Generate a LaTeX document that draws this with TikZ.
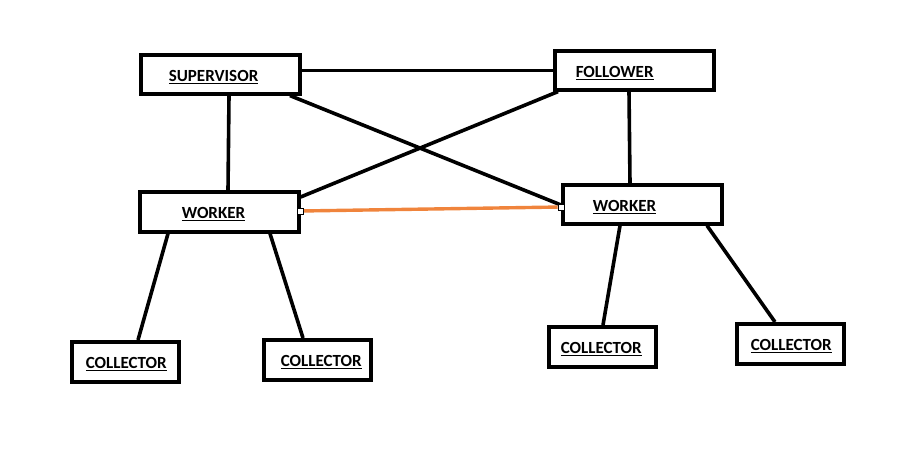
\documentclass[tikz,border=0pt]{standalone}
\usepackage{fontspec}
\setmainfont{Carlito}
\usepackage{xcolor}
\usetikzlibrary{positioning, calc}
\definecolor{LinkOrange}{HTML}{F0843C}
\definecolor{LinkBlack}{HTML}{000000}
\tikzset{
    % Node styles - plain boxes, label pushed to the left
    rolebox/.style={
        rectangle,
        draw=LinkBlack,
        fill=white,
        line width=3.6pt,
        anchor=north west,
        inner xsep=0pt,
        inner ysep=0pt,
        text width=159pt,
        text height=16pt,
        text depth=2pt,
        minimum height=39pt,
        align=left,
        font=\fontsize{17}{20}\selectfont\bfseries
    },
    collectorbox/.style={
        rolebox,
        text width=107pt,
        minimum height=40pt
    },
    handlebox/.style={
        rectangle,
        draw=LinkBlack,
        fill=white,
        line width=0.8pt,
        inner sep=0pt,
        minimum size=6pt
    },
    % Connector styles
    link/.style={
        draw=LinkBlack,
        line width=3.6pt
    },
    orangelink/.style={
        draw=LinkOrange,
        line width=3.4pt
    }
}

\begin{document}
\begin{tikzpicture}[x=1pt, y=-1pt]
    \useasboundingbox (0,0) rectangle (921,458);

    % Top row
    \node[rolebox] (sup) at (139,53) {\hspace*{28pt}\underline{SUPERVISOR}};
    \node[rolebox] (fol) at (553,49) {\hspace*{21pt}\underline{FOLLOWER}};

    % Workers
    \node[rolebox,minimum height=40pt] (w1) at (138,190) {\hspace*{42pt}\underline{WORKER}};
    \node[rolebox] (w2) at (561,183) {\hspace*{30pt}\underline{WORKER}};

    % Collectors
    \node[collectorbox] (c1) at (70,340) {\hspace*{14pt}\underline{COLLECTOR}};
    \node[collectorbox] (c2) at (262,338) {\hspace*{17pt}\underline{COLLECTOR}};
    \node[collectorbox] (c3) at (547,325) {\hspace*{12pt}\underline{COLLECTOR}};
    \node[collectorbox] (c4) at (735,322) {\hspace*{14pt}\underline{COLLECTOR}};

    % Top links
    \draw[link] (fol.west -| sup.east) -- (fol.west);
    \draw[link] ([xshift=90pt]sup.south west) -- ([xshift=90pt]w1.north west);
    \draw[link] ([xshift=151pt]sup.south west) -- ([yshift=-22pt]w2.north west);
    \draw[link] ([xshift=5pt]fol.south west) -- ([yshift=-7pt]w1.north east);
    \draw[link] ([xshift=76pt]fol.south west) -- ([xshift=69pt]w2.north west);

    % Worker to worker
    \node[handlebox] (h1) at ([yshift=-21pt]w1.north east) {};
    \node[handlebox] (h2) at ([yshift=-24pt]w2.north west) {};
    \draw[orangelink] (h1) -- (h2);

    % Collector links
    \draw[link] ([xshift=30pt]w1.south west) -- ([xshift=68pt]c1.north west);
    \draw[link] ([xshift=132pt]w1.south west) -- ([xshift=41pt]c2.north west);
    \draw[link] ([xshift=59pt]w2.south west) -- ([xshift=56pt]c3.north west);
    \draw[link] ([xshift=146pt]w2.south west) -- ([xshift=40pt]c4.north west);
\end{tikzpicture}
\end{document}
